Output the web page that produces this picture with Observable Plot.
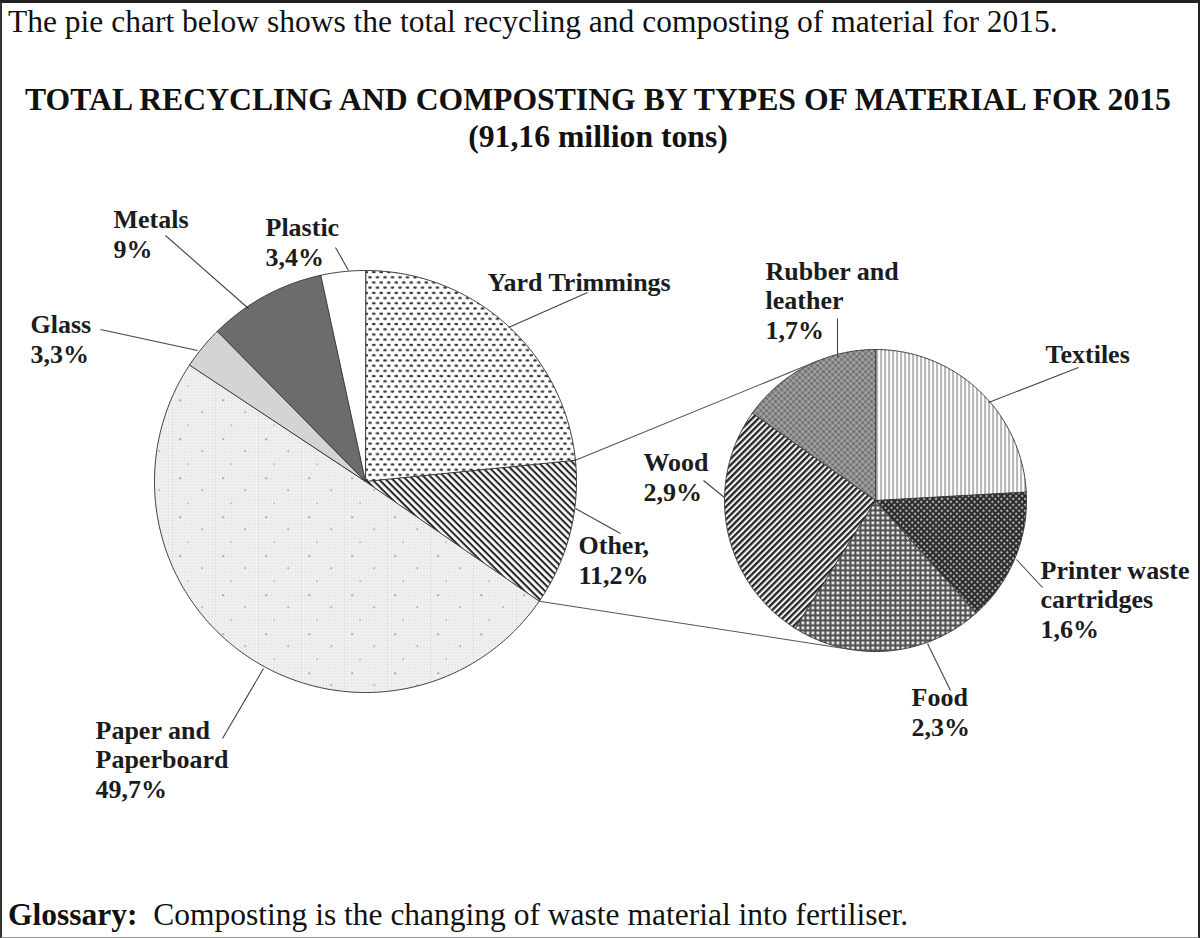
<!DOCTYPE html>
<html>
<head>
<meta charset="utf-8">
<script src="https://cdn.jsdelivr.net/npm/d3@7"></script>
<script src="https://cdn.jsdelivr.net/npm/@observablehq/plot@0.6"></script>
<style>
  html, body { margin: 0; padding: 0; background: #fff; }
  #page { position: relative; width: 1202px; height: 938px; background: #fff; overflow: hidden; font-family: "Liberation Serif", "Times New Roman", serif; color: #111; }
  #frame { position: absolute; left: 0; top: 0; width: 1200px; height: 938px; box-sizing: border-box;
           border-top: 3px solid #222; border-left: 2px solid #333; border-right: 2px solid #222; border-bottom: 1px solid #999; }
  .t { position: absolute; white-space: nowrap; line-height: 1; }
  #line1 { left: 8px; top: 5.6px; font-size: 31.5px; }
  #title { left: 0; width: 1196px; text-align: center; top: 83.5px; font-size: 31.7px; font-weight: bold; }
  #subtitle { left: 0; width: 1196px; text-align: center; top: 120.5px; font-size: 31.7px; font-weight: bold; }
  #footer { left: 8px; top: 898.5px; font-size: 31.5px; }
  #chart { position: absolute; left: 0; top: 160px; }
</style>
</head>
<body>
<svg width="0" height="0" style="position:absolute">
  <defs>
    <pattern id="pYard" patternUnits="userSpaceOnUse" width="7.5" height="10.4">
      <rect width="7.5" height="10.4" fill="#ffffff"/>
      <ellipse cx="2" cy="2.4" rx="1.9" ry="1.2" fill="#333333"/>
      <ellipse cx="5.75" cy="7.6" rx="1.9" ry="1.2" fill="#333333"/>
    </pattern>
    <pattern id="pOther" patternUnits="userSpaceOnUse" width="4.8" height="4.8" patternTransform="rotate(45)">
      <rect width="4.8" height="4.8" fill="#ffffff"/>
      <rect width="4.8" height="2.1" fill="#2a2a2a"/>
    </pattern>
    <pattern id="pWood" patternUnits="userSpaceOnUse" width="4.4" height="4.4" patternTransform="rotate(-45)">
      <rect width="4.4" height="4.4" fill="#f4f4f4"/>
      <rect width="4.4" height="2.3" fill="#262626"/>
    </pattern>
    <pattern id="pPaperFine" patternUnits="userSpaceOnUse" width="3" height="3">
      <rect width="3" height="3" fill="#f1f1f1"/>
      <rect width="1" height="1" fill="#d2d2d2"/>
    </pattern>
    <pattern id="pPaper" patternUnits="userSpaceOnUse" width="43" height="39">
      <rect width="43" height="39" fill="url(#pPaperFine)"/>
      <rect x="7" y="5" width="1.3" height="1.3" fill="#555"/>
      <rect x="29" y="17" width="1.2" height="1.2" fill="#666"/>
      <rect x="15" y="30" width="1.2" height="1.2" fill="#777"/>
    </pattern>
    <pattern id="pTextiles" patternUnits="userSpaceOnUse" width="4" height="4">
      <rect width="4" height="4" fill="#ffffff"/>
      <rect width="1.1" height="4" fill="#7a7a7a"/>
    </pattern>
    <pattern id="pPrinter" patternUnits="userSpaceOnUse" width="4.2" height="4.2" patternTransform="rotate(45)">
      <rect width="4.2" height="4.2" fill="#2c2c2c"/>
      <rect x="1.1" y="1.1" width="1.8" height="1.8" fill="#e0e0e0"/>
    </pattern>
    <pattern id="pFood" patternUnits="userSpaceOnUse" width="5" height="5">
      <rect width="5" height="5" fill="#505050"/>
      <rect x="1" y="1" width="2.8" height="2.8" fill="#f2f2f2"/>
    </pattern>
    <pattern id="pRubber" patternUnits="userSpaceOnUse" width="6" height="6">
      <rect width="6" height="6" fill="#8e8e8e"/>
      <circle cx="1.2" cy="1.2" r="0.9" fill="#4e4e4e"/>
      <circle cx="4.2" cy="4.2" r="0.9" fill="#555"/>
      <circle cx="4.2" cy="1.3" r="0.8" fill="#c8c8c8"/>
      <circle cx="1.3" cy="4.3" r="0.8" fill="#c6c6c6"/>
    </pattern>
  </defs>
</svg>
<div id="page">
  <div id="frame"></div>
  <div class="t" id="line1">The pie chart below shows the total recycling and composting of material for 2015.</div>
  <div class="t" id="title">TOTAL RECYCLING AND COMPOSTING BY TYPES OF MATERIAL FOR 2015</div>
  <div class="t" id="subtitle">(91,16 million tons)</div>
  <div id="chart"></div>
  <div class="t" id="footer"><b>Glossary:</b>&nbsp; Composting is the changing of waste material into fertiliser.</div>
</div>
<script>
// ---------------- DATA ----------------
const mainCategories = ["Yard Trimmings", "Other", "Paper and Paperboard", "Glass", "Metals", "Plastic"];
const mainShares = [23.4, 11.2, 49.7, 3.3, 9, 3.4];
const mainLabels = ["Yard Trimmings", "Other,\n11,2%", "Paper and\nPaperboard\n49,7%", "Glass\n3,3%", "Metals\n9%", "Plastic\n3,4%"];

const otherCategories = ["Textiles", "Printer waste cartridges", "Food", "Wood", "Rubber and leather"];
const otherShares = [2.7, 1.6, 2.3, 2.9, 1.7];
const otherLabels = ["Textiles", "Printer waste\ncartridges\n1,6%", "Food\n2,3%", "Wood\n2,9%", "Rubber and\nleather\n1,7%"];

// ---------------- LAYOUT / STYLE ----------------
const W = 1202, TOP = 160, H = 660;
const mainPie = {cx: 365, cy: 481, r: 211};
const otherPie = {cx: 875, cy: 500, r: 151};
const mainFills = ["url(#pYard)", "url(#pOther)", "url(#pPaper)", "#d4d4d4", "#6c6c6c", "#ffffff"];
const otherFills = ["url(#pTextiles)", "url(#pPrinter)", "url(#pFood)", "url(#pWood)", "url(#pRubber)"];
// [text x, last-line baseline y, leader x1, y1, leader x2, y2]
const mainLabelPos = [
  [487, 290, 587, 292, 508, 327],
  [578, 583, 620, 533, 575, 508],
  [95, 797, 222, 738, 263, 668],
  [30, 362, 100, 329, 197, 350],
  [113, 257, 165, 235, 248, 308],
  [265, 265, 335, 247, 348, 270]
];
const otherLabelPos = [
  [1045, 362, 1078, 367, 988, 402],
  [1040, 637, 1042, 587, 1016, 559],
  [911, 735, 950, 690, 927, 643],
  [643, 500, 703, 480, 724, 497],
  [765, 338, 837, 318, 837, 357]
];

// ---------------- GEOMETRY ----------------
const pie = d3.pie().sort(null).value(d => d);
function rim(p, a) { return {x: p.cx + p.r * Math.sin(a), y: p.cy - p.r * Math.cos(a)}; }
function slicePoints(p, a0, a1) {
  const n = Math.max(2, Math.ceil((a1 - a0) / (Math.PI / 360)));
  const pts = [{x: p.cx, y: p.cy}];
  for (let i = 0; i <= n; i++) pts.push(rim(p, a0 + (a1 - a0) * i / n));
  return pts;
}
function tangent(P, p, side) {
  const dx = p.cx - P.x, dy = p.cy - P.y, d = Math.hypot(dx, dy);
  const th = Math.atan2(dy, dx), al = side * Math.asin(p.r / d), L = Math.sqrt(d * d - p.r * p.r);
  return {x: P.x + L * Math.cos(th + al), y: P.y + L * Math.sin(th + al)};
}

const mainArcs = pie(mainShares);
const otherArcs = pie(otherShares);

const sliceMarks = [];
mainArcs.forEach((a, i) => sliceMarks.push(Plot.line(slicePoints(mainPie, a.startAngle, a.endAngle),
  {x: "x", y: "y", fill: mainFills[i], stroke: "#3a3a3a", strokeWidth: 1, curve: "linear-closed", title: () => mainCategories[i]})));
otherArcs.forEach((a, i) => sliceMarks.push(Plot.line(slicePoints(otherPie, a.startAngle, a.endAngle),
  {x: "x", y: "y", fill: otherFills[i], stroke: "#3a3a3a", strokeWidth: 1, curve: "linear-closed", title: () => otherCategories[i]})));

// connectors from the "Other" slice to the breakdown pie (tangent lines)
const oIdx = mainCategories.indexOf("Other");
const pTop = rim(mainPie, mainArcs[oIdx].startAngle);
const pBot = rim(mainPie, mainArcs[oIdx].endAngle);
const tTop = tangent(pTop, otherPie, -1);
const tBot = tangent(pBot, otherPie, 1);
const connectors = [
  {x1: pTop.x, y1: pTop.y, x2: tTop.x, y2: tTop.y},
  {x1: pBot.x, y1: pBot.y, x2: tBot.x, y2: tBot.y}
];

const labelRows = mainLabels.map((t, i) => ({text: t, pos: mainLabelPos[i]}))
  .concat(otherLabels.map((t, i) => ({text: t, pos: otherLabelPos[i]})));

const chart = Plot.plot({
  width: W, height: H, margin: 0,
  style: {background: "transparent", overflow: "visible"},
  x: {domain: [0, W], range: [0, W], axis: null},
  y: {domain: [TOP, TOP + H], range: [0, H], axis: null},
  marks: [
    ...sliceMarks,
    Plot.link(connectors, {x1: "x1", y1: "y1", x2: "x2", y2: "y2", stroke: "#555", strokeWidth: 1.1}),
    Plot.link(labelRows, {x1: d => d.pos[2], y1: d => d.pos[3], x2: d => d.pos[4], y2: d => d.pos[5], stroke: "#444", strokeWidth: 1.1}),
    Plot.text(labelRows, {x: d => d.pos[0], y: d => d.pos[1], text: "text", textAnchor: "start", lineAnchor: "bottom",
      lineHeight: 1.13, fontSize: 26, fontWeight: "bold", fontFamily: "Liberation Serif", fill: "#1c1c1c"})
  ]
});
document.getElementById("chart").appendChild(chart);
</script>
</body>
</html>
